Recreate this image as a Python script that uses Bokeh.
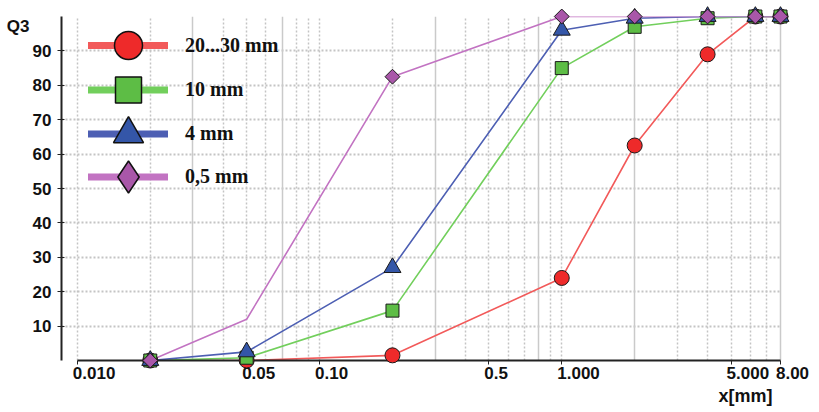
import numpy as np
from bokeh.plotting import figure
from bokeh.models import (FixedTicker, Grid, Legend, LegendItem, LogAxis,
                          LinearAxis, Title, ColumnDataSource, Range1d)
from bokeh.embed import file_html
from bokeh.resources import INLINE

# ---------------- data ----------------
sieve_mm = [0.02, 0.05, 0.2, 1.0, 2.0, 4.0, 6.3, 8.0]
q3_20_30mm = [0, 0, 1.5, 24, 62.5, 89, 100, 100]
q3_10mm = [0, 0.8, 14.5, 85, 97, 99.5, 100, 100]
q3_4mm = [0, 2.5, 27, 96, 99.5, 100, 100, 100]
q3_0_5mm = [0, 12, 82.5, 100, 100, 100, 100, 100]
marker_shown_0_5mm = [True, False, True, True, True, True, True, True]

series_names = ["20...30 mm", "10 mm", "4 mm", "0,5 mm"]

x_ticks = [0.01, 0.05, 0.1, 0.5, 1.0, 5.0, 8.0]
x_tick_labels = ["0.010", "0.05", "0.10", "0.5", "1.000", "5.000", "8.00"]
y_ticks = [10, 20, 30, 40, 50, 60, 70, 80, 90]
y_title = "Q3"
y_title_pos = 97
x_title = "x[mm]"
y_grid_values = [10, 20, 30, 40, 50, 60, 70, 80, 90, 100]
x_grid_dotted = [0.01, 0.02, 0.04, 0.05, 0.06, 0.08, 0.09, 0.1, 0.2, 0.4,
                 0.5, 0.6, 0.7, 0.9, 1.0, 3.0, 4.0, 5.0, 6.0, 7.0]
x_grid_solid = [0.03, 0.07, 0.3, 0.8, 2.0, 8.0]

# ---------------- styles ----------------
series_values = [q3_20_30mm, q3_10mm, q3_4mm, q3_0_5mm]
series_masks = [None, None, None, marker_shown_0_5mm]
styles = [
    dict(line="#f25a5a", fill="#ee2a2a", marker="circle", size=15, angle=0.0,
         leg_marker="circle", leg_size=28, row=29),
    dict(line="#72cf5c", fill="#5dbd45", marker="square", size=13, angle=0.0,
         leg_marker="square", leg_size=26, row=73),
    dict(line="#4d5fb3", fill="#3456a8", marker="triangle", size=17, angle=0.0,
         leg_marker="triangle", leg_size=30, row=117),
    dict(line="#c273c2", fill="#a957a9", marker="square", size=10.5,
         angle=np.pi / 4, leg_marker="diamond", leg_size=34, row=160),
]

FRAME_W, FRAME_H = 739, 344
X_START = 0.0086
PX_PER_DEC = 242.2
X_END = 10 ** (np.log10(X_START) + FRAME_W / PX_PER_DEC)
X_AXIS_END = x_ticks[-1]

p = figure(width=819, height=412, x_axis_type="log",
           x_range=Range1d(X_START, X_END), y_range=Range1d(0, 100),
           output_backend="svg", toolbar_location=None, title=None,
           min_border_left=61, min_border_right=819 - 61 - FRAME_W,
           min_border_top=16, min_border_bottom=52)
p.outline_line_color = None
p.background_fill_color = "white"
p.border_fill_color = "white"
p.grid.grid_line_color = None

# grids
p.add_layout(Grid(dimension=1, ticker=FixedTicker(ticks=y_grid_values),
                  cross_bounds=(X_START, X_AXIS_END),
                  grid_line_color="#c4c4c4", grid_line_width=2,
                  grid_line_dash="2 2"))
p.add_layout(Grid(dimension=0, ticker=FixedTicker(ticks=x_grid_dotted),
                  grid_line_color="#c4c4c4", grid_line_width=1.5,
                  grid_line_dash="2 2"))
p.add_layout(Grid(dimension=0, ticker=FixedTicker(ticks=x_grid_solid),
                  grid_line_color="#cacaca", grid_line_width=1.5))

# x axis: line + tick marks
xa = p.xaxis[0]
xa.ticker = FixedTicker(ticks=[], minor_ticks=x_ticks)
xa.bounds = (x_ticks[0], X_AXIS_END)
xa.major_tick_out = 4
xa.major_tick_in = 0
xa.minor_tick_out = 4
xa.minor_tick_in = 0
xa.minor_tick_line_color = "#222222"
xa.minor_tick_line_width = 1
xa.axis_line_width = 2
xa.axis_line_color = "#222222"

# x axis tick labels, set so each label starts just left of its tick
CHAR_W = {".": 0.278}
LABEL_PX = 17


def label_width(s):
    return LABEL_PX * sum(CHAR_W.get(c, 0.556) for c in s)


label_pos = [t * 10 ** ((label_width(s) / 2 - 4.5) / PX_PER_DEC)
             for t, s in zip(x_ticks, x_tick_labels)]
xl = LogAxis(ticker=FixedTicker(ticks=label_pos),
             major_label_overrides={t: s for t, s in zip(label_pos, x_tick_labels)},
             axis_line_color=None, major_tick_line_color=None,
             minor_tick_line_color=None, major_tick_out=0, major_tick_in=0,
             major_label_standoff=2,
             major_label_text_font="Liberation Sans",
             major_label_text_font_style="bold",
             major_label_text_font_size=f"{LABEL_PX}px",
             major_label_text_color="#111111")
p.add_layout(xl, "below")

# y axis
ya = p.yaxis[0]
ya.ticker = FixedTicker(ticks=y_ticks)
ya.bounds = (0, 100)
ya.major_label_text_font = "Liberation Sans"
ya.major_label_text_font_style = "bold"
ya.major_label_text_font_size = "17px"
ya.major_label_text_color = "#111111"
ya.major_label_standoff = 6
ya.major_tick_out = 4
ya.major_tick_in = 3
ya.minor_tick_line_color = None
ya.axis_line_width = 2
ya.axis_line_color = "#222222"
ya.major_tick_line_color = "#222222"

# "Q3" caption at the top of the y axis
yq = LinearAxis(ticker=FixedTicker(ticks=[y_title_pos]),
                major_label_overrides={y_title_pos: y_title},
                axis_line_color=None, major_tick_line_color=None,
                minor_tick_line_color=None, major_tick_out=0, major_tick_in=0,
                major_label_standoff=0,
                major_label_text_font="Liberation Sans",
                major_label_text_font_style="bold",
                major_label_text_font_size="17px",
                major_label_text_color="#111111")
p.add_layout(yq, "left")

# "x[mm]" caption
p.add_layout(Title(text=x_title, align="right", offset=28, standoff=8,
                   vertical_align="top",
                   text_font="Liberation Sans", text_font_style="bold",
                   text_font_size="18px", text_color="#111111"), "below")

# series lines
for vals, st in zip(series_values, styles):
    src = ColumnDataSource(data=dict(x=sieve_mm, y=vals))
    p.line("x", "y", source=src, line_color=st["line"], line_width=1.6)

# markers
for vals, mask, st in zip(series_values, series_masks, styles):
    if mask is None:
        mask = [True] * len(vals)
    xs = [x for x, m in zip(sieve_mm, mask) if m]
    ys = [y for y, m in zip(vals, mask) if m]
    src = ColumnDataSource(data=dict(x=xs, y=ys))
    r = p.scatter("x", "y", source=src, marker=st["marker"], size=st["size"],
                  angle=st["angle"], fill_color=st["fill"],
                  line_color="#1a1a1a", line_width=1)
    r.level = "overlay"

# legends (one per series so each marker can have its own size)
for name, st in zip(series_names, styles):
    dummy = ColumnDataSource(data=dict(x=np.array([np.nan]), y=np.array([np.nan])))
    lr = p.line("x", "y", source=dummy, line_color=st["line"], line_width=7,
                line_cap="round")
    mr = p.scatter("x", "y", source=dummy, marker=st["leg_marker"], size=10,
                   fill_color=st["fill"], line_color="#111111", line_width=1.5)
    gh = st["leg_size"] / 0.4
    vy = FRAME_H - (st["row"] + gh / 2)
    leg = Legend(items=[LegendItem(label=name, renderers=[lr, mr])],
                 location=(27, vy), glyph_width=80, glyph_height=int(round(gh)),
                 padding=0, margin=0, spacing=0, label_standoff=17,
                 label_text_font="Liberation Serif",
                 label_text_font_style="bold",
                 label_text_font_size="20px", label_text_color="#111111",
                 background_fill_alpha=0, border_line_color=None)
    p.add_layout(leg, "center")

open("out.html", "w").write(file_html(p, INLINE))
